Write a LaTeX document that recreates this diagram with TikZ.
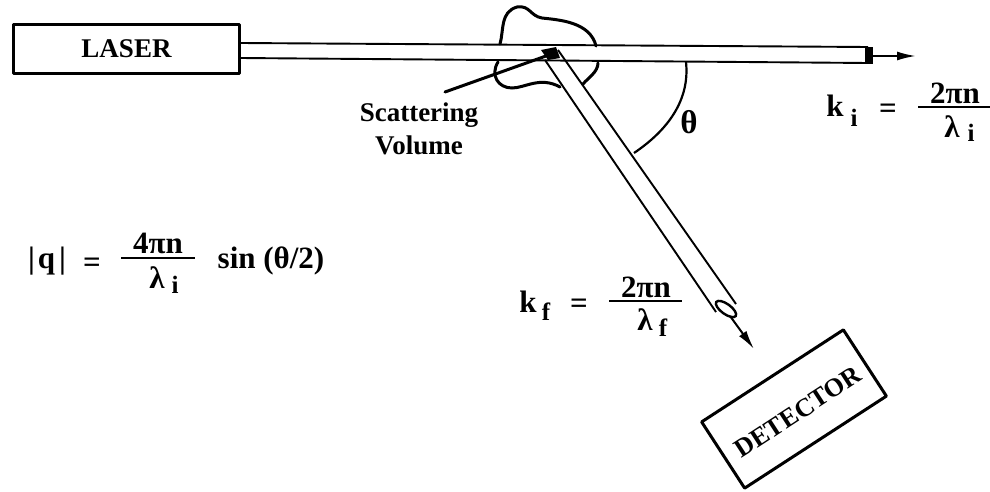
\documentclass[tikz,border=0pt]{standalone}
\usepackage{fontspec}
\setmainfont{Liberation Serif}
\usetikzlibrary{arrows.meta}
\tikzset{
  thin line/.style={line width=1.9pt,black},
  heavy/.style={line width=3pt,black,line join=round},
  blob/.style={line width=3pt,line cap=round},
  label/.style={inner sep=0pt,font=\fontsize{27}{27}\selectfont\bfseries},
  eq/.style={inner sep=0pt,font=\fontsize{31}{31}\selectfont\bfseries},
  sub/.style={inner sep=0pt,font=\fontsize{25}{25}\selectfont\bfseries},
  tip/.style={line width=2pt,-{Latex[length=19pt,width=9pt]}},
}
\begin{document}
\begin{tikzpicture}[x=1pt,y=-1pt]
\useasboundingbox (0,0) rectangle (990,492);
% laser
\node[draw,heavy,minimum width=226pt,minimum height=49pt,inner sep=0pt,label] (laser) at (126.5,49) {LASER};
% beam
\coordinate (bt) at (240,43);
\coordinate (bb) at (240,58);
\coordinate (et) at (868,47);
\coordinate (eb) at (868,63);
\draw[thin line] (bt) -- (et);
\draw[thin line] (bb) -- (eb);
\fill (865,47) rectangle (873,64);
\coordinate (ia) at (873,56);
\coordinate (ib) at (916,56);
\draw[tip] (ia) -- (ib);
% blob
\coordinate (s) at (546,56);
\draw[blob] (500,44) .. controls (504,30) and (500,12) .. (517,7)
  .. controls (530,5) and (530,16) .. (542,18)
  .. controls (560,20) and (590,22) .. (596,46);
\draw[blob] (598,63) .. controls (598,72) and (588,78) .. (583,84);
\draw[blob] (498,62) .. controls (490,75) and (498,88) .. (512,88)
  .. controls (525,88) and (540,76) .. (560,87);
% leader
\coordinate (l) at (445,92);
\draw[line width=3pt,line cap=round] (l) -- (s);
\fill (541,50) -- (556,47) -- (560,58) -- (548,60) -- cycle;
% scattered tube
\coordinate (t1) at (545,60);
\coordinate (t2) at (558,50);
\coordinate (e1) at (716,312);
\coordinate (e2) at (736,304);
\draw[thin line] (t1) -- (e1);
\draw[thin line] (t2) -- (e2);
\draw[line width=2.4pt,fill=white,rotate around={-36:(726,309)}] (726,309) ellipse (12pt and 5pt);
\coordinate (fa) at (730,316);
\coordinate (fb) at (754,349);
\draw[tip] (fa) -- (fb);
% angle
\coordinate (a1) at (634,153);
\coordinate (a2) at (686,62);
\draw[line width=2.2pt] (a1) .. controls (668,130) and (690,100) .. (a2);
\node[inner sep=0pt,font=\fontsize{33}{33}\selectfont\bfseries] (theta) at (689,122) {θ};
\node[label,align=center] (sv) at (419,129) {Scattering\\[6pt]Volume};
% detector
\node[draw,heavy,rotate=33,minimum width=169pt,minimum height=79pt,inner sep=0pt] (det) at (794,409) {};
\node[rotate=33,inner sep=0pt,font=\fontsize{26}{26}\selectfont\bfseries] (dettext) at (798,412) {DETECTOR};
% ki
\node[eq,anchor=base] (ki) at (835,117) {k};
\node[sub,anchor=base] (kis) at (854,127) {i};
\node[eq,anchor=base] (kieq) at (888,119) {=};
\node[eq,anchor=base] (kin) at (955,104) {2πn};
\coordinate (kil) at (918,107);
\coordinate (kir) at (990,107);
\draw[line width=2.4pt] (kil) -- (kir);
\node[eq,anchor=base] (kid) at (952,137) {λ};
\node[sub,anchor=base] (kids) at (971,142) {i};
% kf
\node[eq,anchor=base] (kf) at (528,312) {k};
\node[sub,anchor=base] (kfs) at (546,320) {f};
\node[eq,anchor=base] (kfeq) at (579,313) {=};
\node[eq,anchor=base] (kfn) at (646,297) {2πn};
\coordinate (kfl) at (609,301);
\coordinate (kfr) at (682,301);
\draw[line width=2.4pt] (kfl) -- (kfr);
\node[eq,anchor=base] (kfd) at (645,330) {λ};
\node[sub,anchor=base] (kfds) at (663,336) {f};
% q
\node[eq,anchor=base] (q) at (47,268) {|\hspace{3pt}q\hspace{4pt}|};
\node[eq,anchor=base] (qeq) at (92,272) {=};
\node[eq,anchor=base] (qn) at (158,253) {4πn};
\coordinate (ql) at (121,258);
\coordinate (qr) at (195,258);
\draw[line width=2.4pt] (ql) -- (qr);
\node[eq,anchor=base] (qd) at (157,288) {λ};
\node[sub,anchor=base] (qds) at (175,293) {i};
\node[eq,anchor=base] (qs) at (271,268) {sin (θ/2)};
\end{tikzpicture}
\end{document}
